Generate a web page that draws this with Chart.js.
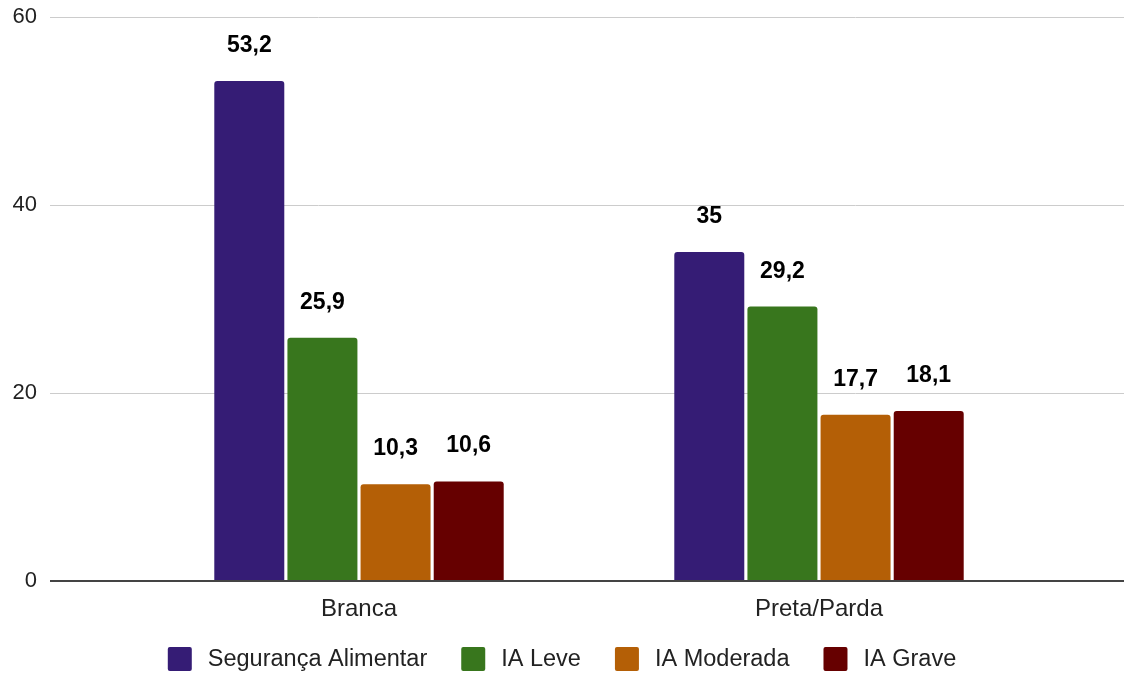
<!DOCTYPE html>
<html lang="pt-BR">
<head>
<meta charset="utf-8">
<title>Segurança alimentar por cor/raça</title>
<script src="https://cdn.jsdelivr.net/npm/chart.js@4/dist/chart.umd.min.js"></script>
<style>
  html, body { margin: 0; padding: 0; background: #ffffff; }
  #wrap { width: 1124px; height: 674px; }
</style>
</head>
<body>
<div id="wrap"><canvas id="chart" width="1124" height="674"></canvas></div>
<script>
// Categories (cor/raça) and the four food-security series, in %
const categories = ['Branca', 'Preta/Parda'];
const segurancaAlimentar = [53.2, 35];
const iaLeve = [25.9, 29.2];
const iaModerada = [10.3, 17.7];
const iaGrave = [10.6, 18.1];
const seriesNames = ['Segurança Alimentar', 'IA Leve', 'IA Moderada', 'IA Grave'];
const yTicks = [0, 20, 40, 60];

const colors = ['#351c75', '#38761d', '#b45f06', '#660000'];
const FONT = '"Liberation Sans", Arial, sans-serif';
const textColor = '#222222';

const formatValue = v => String(v).replace('.', ',');

// Horizontal guide lines spanning the full width, plus the darker zero line
const guideLines = {
  id: 'guideLines',
  beforeDatasetsDraw(chart) {
    const { ctx } = chart;
    const y = chart.scales.y;
    ctx.save();
    ctx.strokeStyle = '#cccccc';
    ctx.lineWidth = 1;
    yTicks.forEach(t => {
      if (t === 0) return;
      const py = Math.round(y.getPixelForValue(t)) + 0.5;
      ctx.beginPath();
      ctx.moveTo(50, py);
      ctx.lineTo(chart.width, py);
      ctx.stroke();
    });
    ctx.restore();
  },
  afterDatasetsDraw(chart) {
    const { ctx } = chart;
    const y = chart.scales.y;
    const py = Math.round(y.getPixelForValue(0));
    ctx.save();
    ctx.strokeStyle = '#444444';
    ctx.lineWidth = 2;
    ctx.beginPath();
    ctx.moveTo(50, py);
    ctx.lineTo(chart.width, py);
    ctx.stroke();
    ctx.restore();
  }
};

// Value labels above each bar
const valueLabels = {
  id: 'valueLabels',
  afterDatasetsDraw(chart) {
    const { ctx } = chart;
    ctx.save();
    ctx.font = 'bold 23px ' + FONT;
    ctx.fillStyle = '#000000';
    ctx.textAlign = 'center';
    ctx.textBaseline = 'alphabetic';
    chart.data.datasets.forEach((ds, i) => {
      const meta = chart.getDatasetMeta(i);
      meta.data.forEach((bar, j) => {
        ctx.fillText(formatValue(ds.data[j]), bar.x, bar.y - 29);
      });
    });
    ctx.restore();
  }
};

// Centered legend row under the axis
const bottomLegend = {
  id: 'bottomLegend',
  afterDraw(chart) {
    const { ctx } = chart;
    const box = 24, gapText = 16, gapItem = 34, cy = 659;
    ctx.save();
    ctx.font = '23.5px ' + FONT;
    const items = chart.data.datasets.map(ds => ({
      label: ds.label, color: ds.backgroundColor, w: ctx.measureText(ds.label).width
    }));
    const total = items.reduce((s, it) => s + box + gapText + it.w, 0) + gapItem * (items.length - 1);
    let x = (chart.width - total) / 2;
    items.forEach(it => {
      ctx.fillStyle = it.color;
      ctx.beginPath();
      ctx.roundRect(x, cy - box / 2, box, box, 2);
      ctx.fill();
      ctx.fillStyle = textColor;
      ctx.textAlign = 'left';
      ctx.textBaseline = 'middle';
      ctx.fillText(it.label, x + box + gapText, cy + 1);
      x += box + gapText + it.w + gapItem;
    });
    ctx.restore();
  }
};

const seriesData = [segurancaAlimentar, iaLeve, iaModerada, iaGrave];

new Chart(document.getElementById('chart'), {
  type: 'bar',
  data: {
    labels: categories,
    datasets: seriesNames.map((name, i) => ({
      label: name,
      data: seriesData[i],
      backgroundColor: colors[i],
      borderRadius: 3,
      barPercentage: 0.957,
      categoryPercentage: 0.636
    }))
  },
  options: {
    responsive: false,
    animation: false,
    devicePixelRatio: 1,
    layout: { padding: { top: 17, right: 75, bottom: 43, left: 0 } },
    plugins: {
      legend: { display: false },
      tooltip: { enabled: false }
    },
    scales: {
      x: {
        grid: { display: false, drawTicks: false },
        border: { display: false },
        ticks: { color: textColor, font: { family: FONT, size: 24 }, padding: 14 },
        afterFit(scale) { scale.height = 50; }
      },
      y: {
        min: 0,
        max: 60,
        afterBuildTicks(scale) { scale.ticks = yTicks.map(v => ({ value: v })); },
        grid: { color: 'rgba(0,0,0,0)', drawOnChartArea: false, drawTicks: true, tickLength: 88 },
        border: { display: false },
        ticks: { color: textColor, font: { family: FONT, size: 22 }, padding: 4 },
        afterFit(scale) { scale.width = 129; }
      }
    }
  },
  plugins: [guideLines, valueLabels, bottomLegend]
});
</script>
</body>
</html>
